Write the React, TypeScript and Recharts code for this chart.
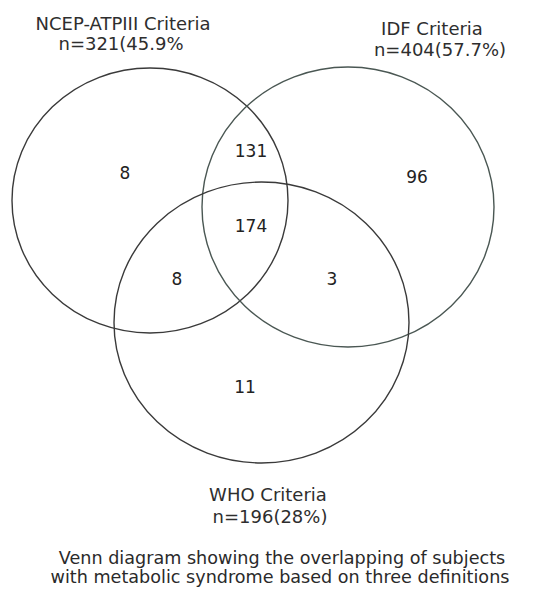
import { ScatterChart, Scatter, XAxis, YAxis } from "recharts";

// --- data ---
const SET_NAMES = ["NCEP-ATPIII Criteria", "IDF Criteria", "WHO Criteria"];
const SET_TOTALS = ["n=321(45.9%", "n=404(57.7%)", "n=196(28%)"];

const REGION_NAMES = [
  "NCEP only",
  "IDF only",
  "WHO only",
  "NCEP+IDF",
  "NCEP+WHO",
  "IDF+WHO",
  "All three",
];
const REGION_COUNTS = [8, 96, 11, 131, 8, 3, 174];

const CAPTION = [
  "Venn diagram showing the overlapping of subjects",
  "with metabolic syndrome based on three definitions",
];

// --- layout (chart units = page pixels) ---
const W = 537;
const H = 589;
const FONT = "'DejaVu Sans', Verdana, sans-serif";

const CIRCLE_LAYOUT = [
  { x: 150, y: 200.5, rx: 138, ry: 132.5, stroke: "#3a3a3a" },
  { x: 348, y: 207, rx: 146, ry: 140, stroke: "#4a5753" },
  { x: 261.5, y: 322.5, rx: 147.5, ry: 140.5, stroke: "#3a3a3a" },
];

const TITLE_LAYOUT = [
  { x: 123, y: 30, x2: 121, y2: 50 },
  { x: 432, y: 35, x2: 440, y2: 56 },
  { x: 268, y: 501, x2: 270, y2: 523 },
];

const REGION_LAYOUT = [
  { x: 125, y: 179 },
  { x: 417, y: 183 },
  { x: 245, y: 393 },
  { x: 251, y: 157 },
  { x: 177, y: 285 },
  { x: 332, y: 285 },
  { x: 251, y: 232 },
];

const CAPTION_LAYOUT = [
  { x: 282, y: 564 },
  { x: 280, y: 583 },
];

const circles = CIRCLE_LAYOUT.map((c, i) => ({ ...c, name: SET_NAMES[i] }));
const titles = TITLE_LAYOUT.map((t, i) => ({
  ...t,
  name: SET_NAMES[i],
  total: SET_TOTALS[i],
}));
const regions = REGION_LAYOUT.map((r, i) => ({
  ...r,
  name: REGION_NAMES[i],
  count: REGION_COUNTS[i],
}));
const captions = CAPTION_LAYOUT.map((c, i) => ({ ...c, text: CAPTION[i] }));

const sx = 1; // one x unit per pixel (domain == width)

function Circle(props: any) {
  const { cx, cy, payload } = props;
  return (
    <ellipse
      cx={cx}
      cy={cy}
      rx={payload.rx * sx}
      ry={payload.ry * sx}
      fill="none"
      stroke={payload.stroke}
      strokeWidth={1.4}
    />
  );
}

function Title(props: any) {
  const { cx, cy, payload } = props;
  const dx = payload.x2 - payload.x;
  const dy = payload.y2 - payload.y;
  return (
    <g fontFamily={FONT} fontSize={18} fill="#2e2e2e" textAnchor="middle">
      <text x={cx} y={cy}>
        {payload.name}
      </text>
      <text x={cx + dx} y={cy + dy}>
        {payload.total}
      </text>
    </g>
  );
}

function Count(props: any) {
  const { cx, cy, payload } = props;
  return (
    <text
      x={cx}
      y={cy}
      fontFamily={FONT}
      fontSize={17}
      fill="#222"
      textAnchor="middle"
    >
      {payload.count}
    </text>
  );
}

function Caption(props: any) {
  const { cx, cy, payload } = props;
  return (
    <text
      x={cx}
      y={cy}
      fontFamily={FONT}
      fontSize={17.6}
      fill="#2a2a2a"
      textAnchor="middle"
    >
      {payload.text}
    </text>
  );
}

export default function App() {
  return (
    <div style={{ width: W, height: H, background: "#fff" }}>
      <style>{"body{margin:0}"}</style>
      <ScatterChart
        width={W}
        height={H}
        margin={{ top: 0, right: 0, bottom: 0, left: 0 }}
      >
        <XAxis type="number" dataKey="x" domain={[0, W]} hide />
        <YAxis type="number" dataKey="y" domain={[0, H]} reversed hide />
        <Scatter data={circles} shape={Circle} isAnimationActive={false} />
        <Scatter data={titles} shape={Title} isAnimationActive={false} />
        <Scatter data={regions} shape={Count} isAnimationActive={false} />
        <Scatter data={captions} shape={Caption} isAnimationActive={false} />
      </ScatterChart>
    </div>
  );
}
